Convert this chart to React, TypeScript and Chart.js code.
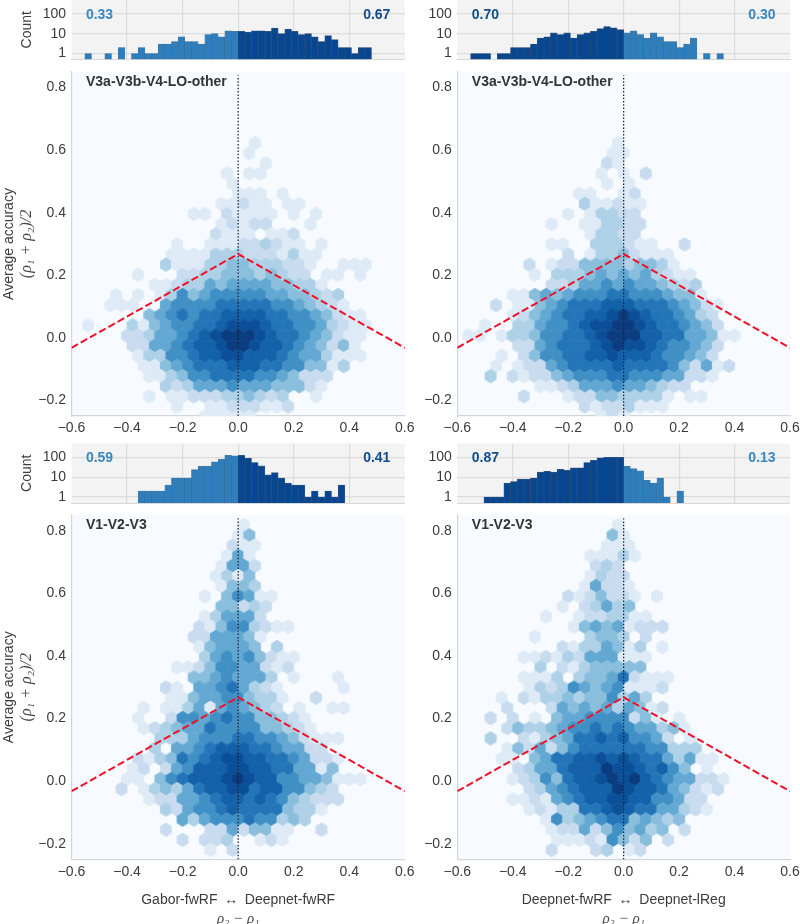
import React, { useEffect, useRef } from "react";
import { Chart, registerables } from "chart.js";

Chart.register(...registerables);

const diffTicks = [-0.6, -0.4, -0.2, 0, 0.2, 0.4, 0.6];
const histGridTicks = [-0.4, -0.2, 0, 0.2, 0.4];
const accTicks = [-0.2, 0, 0.2, 0.4, 0.6, 0.8];
const countTicks = [1, 10, 100];
const guideX = [-0.6, 0, 0.6];
const guideY = [-0.032, 0.268, -0.032];
const HIST_BIN = 0.024;
const HEX_BIN_X = 0.04;
const HEX_BIN_Y = 0.0324;
const HEX_TOP = 0.8172;

const histStartA = -23;
const histA = [1,0,0,1,0,2,0,1,2,1,1,3,3,4,7,4,4,3,9,10,7,14,13,13,12,14,14,13,19,10,17,13,9,10,7,4,8,5,2,2,1,2,2];
const histStartB = -23;
const histB = [1,1,1,0,1,1,2,2,2,3,6,7,11,9,11,6,9,11,13,18,23,20,16,11,14,9,6,11,7,4,4,2,3,6,0,1,0,1];
const histStartC = -15;
const histC = [2,2,2,2,4,9,9,9,24,35,36,60,80,125,120,125,90,55,37,13,17,9,5,4,4,1,2,1,2,1,4];
const histStartD = -21;
const histD = [1,1,1,5,6,8,8,9,18,20,18,25,22,30,30,55,70,95,100,100,100,35,27,21,7,5,9,1,0,2];

type HexRow = [number, string];
const E: HexRow = [0, ""];

const hexA: HexRow[] = [E,E,E,E,E,E,
  [1,"1"],[1,"1"],[2,"1"],[-1,"1.11"],[-1,"1"],[0,"111.1"],
  [-2,"11211.11"],[-4,"11.21111.1.1"],[-2,"12122...1"],[-2,"2111.112"],
  [-6,"1..111223211.1"],[-6,"11113332221311"],[-7,"31113344333221..111"],
  [-9,"1...223344434322.11.1"],[-8,"1123354555544331"],[-11,"1.1.13645666665544323"],
  [-12,"111..56666777776654321"],[-8,"45676778888776654211"],
  [-14,"1...3145667789998776653211"],[-10,"223556789aaa9877654211"],
  [-10,"225567889aa9887654241"],[-9,"133667889988876553111"],
  [-9,"1145677788877664413"],[-8,"11346677776654222"],[-7,"323555655544421"],
  [-8,"1.11222334323..1"],[-6,"1..11222112"],[-3,"11111"],
];

const hexB: HexRow[] = [E,E,E,E,E,E,
  [-1,"1"],[-1,"11"],[-2,"21"],[-2,"1.1.2"],[-2,"1.1"],[-4,"11..12"],
  [-4,"311211"],[-5,"1.13322"],[-7,"1..113322"],[-3,"13322"],
  [-7,"11..333211..2"],[-5,"2.13342111"],[-9,"2.122444434431"],
  [-8,"1.3334545453211"],[-7,"22355656554323"],[-10,"114545666776665441"],
  [-12,"2.1145677788877765421"],[-10,"1245677889a98776532"],
  [-13,"1..335667899aa98776542"],[-14,"11.1334667789aaa887755411"],
  [-10,"225677789a998766542"],[-11,"1.246677889888766542"],
  [-12,"1.12256777787777642512"],[-12,"3.2122456667766655221"],
  [-8,"11235556554322"],[-9,"2...1224433331.11"],[-4,"21223111"],[-2,"121"],
];

const hexC: HexRow[] = [
  [0,"1"],[0,"14"],[-1,"211"],[-1,"151"],[-2,"1552"],[-2,"1314"],
  [-2,"1443"],[-3,"1.46511"],[-2,"44232"],[-3,"135552"],[-4,"214663211"],[-4,"2255541"],
  [-4,"145554.3"],[-3,"356564211"],[-6,"11246655212"],[-4,"44565553.1...1"],
  [-7,"21.55675321.....1"],[-6,"11455664331..2"],[-9,"1.11351565432.1..11"],
  [-9,"1..2665676644321"],[-9,"1234557666644321"],[-7,"33356667766542111"],
  [-8,"3.55678887765522"],[-9,"2134767899887765221"],
  [-10,"12.2568889988775514"],[-10,"11.4678889a98866554111"],
  [-11,"2.134357889978866432"],[-8,"122556788787643222"],
  [-7,"325667877774331"],[-5,"535666766343"],[-7,"2...22524411..2"],
  [-5,"2.223..121"],[-3,"1.2"],E,
];

const hexD: HexRow[] = [
  [-1,"1"],[-1,"41"],[-2,"111"],[-3,"11131"],[-3,"232"],[-3,"1322"],
  [-4,"15221"],[-5,"2124221.1"],[-6,"1.23534"],[-7,"1..1223311"],[-5,"145451222"],[-8,"1....3443.2"],
  [-6,"21335413.1"],[-9,"112132555111"],[-8,"3.21344444"],[-9,"1113.344572111"],
  [-9,"1323654561112"],[-11,"1.213343446353"],[-11,"2...25454535412"],
  [-12,"2.2.1.4556666241.1"],[-11,"24334566767655341"],[-12,"3..21345778786652.1"],
  [-11,"142524677777766333"],[-11,"11.45778898987753511"],
  [-10,"23557888a9987864.1"],[-10,"123647889a9a87655221"],
  [-9,"23567888a988754212"],[-10,"112156788998866522"],
  [-9,"12133778987755321"],[-7,"1634567745434"],[-7,"12252464534.2"],
  [-6,"111216424.2"],[-7,"2...23.12"],E,
];

const regionTop = "V3a-V3b-V4-LO-other";
const regionBottom = "V1-V2-V3";
const fractionsA = ["0.33", "0.67"];
const fractionsB = ["0.70", "0.30"];
const fractionsC = ["0.59", "0.41"];
const fractionsD = ["0.87", "0.13"];
const xLabelLeft = "Gabor-fwRF \u2009\u2194\u2009 Deepnet-fwRF";
const xLabelRight = "Deepnet-fwRF \u2009\u2194\u2009 Deepnet-lReg";
const xMath = "ρ₂ − ρ₁";
const yLabel = "Average accuracy";
const yMath = "(ρ₁ + ρ₂)/2";

const BLUES = ["#f7fbff","#deebf7","#c9dcef","#afd1e7","#89bedc","#62a8d3","#4090c5","#2475b8","#1361a9","#0b4f98","#0a3c7f"];
const LIGHT = "#2f7ebb";
const DARK = "#08478f";
const LIGHT_TXT = "#3a87c2";
const DARK_TXT = "#114b90";
const INK = "#3b3b3b";
const SANS = '"Liberation Sans", Arial, sans-serif';

Chart.defaults.font.family = SANS;
Chart.defaults.font.size = 14;
Chart.defaults.color = INK;

const sprites: Record<number, HTMLCanvasElement> = {};
function hexSprite(level: number) {
  if (sprites[level]) return sprites[level];
  const c = document.createElement("canvas");
  c.width = 14;
  c.height = 16;
  const g = c.getContext("2d")!;
  const w = 11.11 / 2, h = 13.53 / 2;
  g.beginPath();
  g.moveTo(7, 8 - h);
  g.lineTo(7 + w, 8 - h / 2);
  g.lineTo(7 + w, 8 + h / 2);
  g.lineTo(7, 8 + h);
  g.lineTo(7 - w, 8 + h / 2);
  g.lineTo(7 - w, 8 - h / 2);
  g.closePath();
  g.fillStyle = BLUES[level];
  g.strokeStyle = BLUES[level];
  g.lineWidth = 0.9;
  g.fill();
  g.stroke();
  sprites[level] = c;
  return c;
}

function hexPoints(rows: HexRow[]) {
  const pts: { x: number; y: number; c: number }[] = [];
  rows.forEach(([start, levels], r) => {
    const k = r - 6;
    const half = ((k % 2) + 2) % 2 === 0;
    [...levels].forEach((ch, j) => {
      if (ch === ".") return;
      const i = start + j;
      pts.push({ x: (half ? i + 0.5 : i) * HEX_BIN_X, y: HEX_TOP - r * HEX_BIN_Y, c: parseInt(ch, 16) });
    });
  });
  return pts;
}

function histPoints(start: number, values: number[]) {
  const pts: { x: number; y: number }[] = [];
  values.forEach((v, i) => {
    if (v > 0) pts.push({ x: (start + i + 0.5) * HIST_BIN, y: v });
  });
  return pts;
}

const fmtDiff = (v: number) => {
  const s = Math.abs(v).toFixed(1);
  return v < -1e-9 ? "−" + s : s;
};

const noPad = (s: any) => {
  s.paddingTop = 0;
  s.paddingBottom = 0;
  s.paddingLeft = 0;
  s.paddingRight = 0;
};

const decorations = {
  id: "decorations",
  beforeDraw(chart: any, _a: any, o: any) {
    const { ctx, chartArea: a } = chart;
    ctx.save();
    ctx.fillStyle = o.bg;
    ctx.fillRect(a.left, a.top, a.right - a.left, a.bottom - a.top);
    ctx.restore();
  },
  afterDraw(chart: any, _a: any, o: any) {
    const { ctx, chartArea: a } = chart;
    ctx.save();
    ctx.textBaseline = "middle";
    if (o.region) {
      ctx.font = `bold 14px ${SANS}`;
      ctx.fillStyle = "#333333";
      ctx.textAlign = "left";
      ctx.fillText(o.region, a.left + 14.5, a.top + 10.5);
    }
    if (o.fractions) {
      ctx.font = `bold 14px ${SANS}`;
      ctx.textAlign = "left";
      ctx.fillStyle = o.leftDark ? DARK_TXT : LIGHT_TXT;
      ctx.fillText(o.fractions[0], a.left + 14.4, a.top + 15);
      ctx.textAlign = "right";
      ctx.fillStyle = o.leftDark ? LIGHT_TXT : DARK_TXT;
      ctx.fillText(o.fractions[1], a.right - 14.4, a.top + 15);
    }
    ctx.fillStyle = "#4a4a4a";
    ctx.textAlign = "center";
    if (o.xMath) {
      ctx.font = `italic 15px "Liberation Serif", "DejaVu Serif", serif`;
      ctx.fillText(o.xMath, (a.left + a.right) / 2, chart.height - 5);
    }
    if (o.yMath) {
      ctx.font = `italic 16px "Liberation Serif", "DejaVu Serif", serif`;
      ctx.translate(27, (a.top + a.bottom) / 2);
      ctx.rotate(-Math.PI / 2);
      ctx.fillText(o.yMath, 0, 0);
    }
    ctx.restore();
  },
};

function HistPanel({ left, top, width, height, area, start, values, fractions, leftDark, yTitle }: any) {
  const ref = useRef<HTMLCanvasElement>(null);
  useEffect(() => {
    const chart = new Chart(ref.current!, {
      type: "bar",
      plugins: [decorations],
      data: {
        datasets: [{
          data: histPoints(start, values) as any,
          grouped: false,
          barPercentage: 1,
          categoryPercentage: 1,
          backgroundColor: (c: any) => ((c.raw?.x < 0) === !!leftDark ? DARK : LIGHT),
          borderColor: (c: any) => ((c.raw?.x < 0) === !!leftDark ? "rgba(4,40,90,0.75)" : "rgba(20,80,130,0.75)"),
          borderWidth: 0.6,
        } as any],
      },
      options: {
        animation: false,
        responsive: false,
        events: [],
        layout: { padding: { top: area.top, right: area.right, left: 0, bottom: 0 } },
        plugins: { legend: { display: false }, tooltip: { enabled: false }, decorations: { bg: "#f3f3f3", fractions, leftDark } } as any,
        scales: {
          x: {
            type: "linear", min: -0.6, max: 0.6, offset: false,
            afterBuildTicks: (s: any) => { s.ticks = histGridTicks.map((value) => ({ value })); },
            afterFit: (s: any) => { s.height = area.x; noPad(s); },
            ticks: { display: false },
            grid: { color: "#dcdcdc", lineWidth: 1.2, drawTicks: false, offset: false },
            border: { display: true, color: "#d8d8d8", width: 1 },
          },
          y: {
            type: "logarithmic", min: 0.5, max: 500,
            afterBuildTicks: (s: any) => { s.ticks = countTicks.map((value) => ({ value })); },
            afterFit: (s: any) => { s.width = area.y; noPad(s); },
            ticks: { padding: 5.5, color: INK, font: { size: 14 }, callback: (v: any) => String(v), autoSkip: false },
            grid: { color: "#dcdcdc", lineWidth: 1.2, drawTicks: false },
            border: { display: false },
            title: { display: !!yTitle, text: "Count", color: INK, font: { size: 14 }, padding: { top: 18.6, bottom: 0 } },
          },
        },
      } as any,
    });
    return () => chart.destroy();
  }, []);
  return <canvas ref={ref} width={width} height={height} style={{ position: "absolute", left, top, width, height }} />;
}

function HexPanel({ left, top, width, height, area, rows, region, xTitle, yTitle }: any) {
  const ref = useRef<HTMLCanvasElement>(null);
  useEffect(() => {
    const chart = new Chart(ref.current!, {
      type: "scatter",
      plugins: [decorations],
      data: {
        datasets: [
          {
            data: hexPoints(rows),
            order: 3,
            pointRadius: 6,
            pointHoverRadius: 6,
            pointBorderWidth: 0,
            pointStyle: (c: any) => hexSprite(c.raw?.c ?? 1),
          },
          {
            data: [{ x: 0, y: -0.25 }, { x: 0, y: 0.84 }],
            order: 2,
            showLine: true,
            pointRadius: 0,
            borderColor: "#1a1f33",
            borderWidth: 1.25,
            borderDash: [1.5, 1.8],
          },
          {
            data: guideX.map((x, i) => ({ x, y: guideY[i] })),
            order: 1,
            showLine: true,
            pointRadius: 0,
            borderColor: "#ee1228",
            borderWidth: 2,
            borderDash: [7.4, 3.2],
          },
        ] as any,
      },
      options: {
        animation: false,
        responsive: false,
        events: [],
        layout: { padding: { top: area.top, right: area.right, left: 0, bottom: 0 } },
        plugins: {
          legend: { display: false }, tooltip: { enabled: false },
          decorations: { bg: BLUES[0], region, xMath: xTitle ? xMath : null, yMath: yTitle ? yMath : null },
        } as any,
        scales: {
          x: {
            type: "linear", min: -0.6, max: 0.6,
            afterBuildTicks: (s: any) => { s.ticks = diffTicks.map((value) => ({ value })); },
            afterFit: (s: any) => { s.height = area.x; noPad(s); },
            ticks: { padding: 4, color: INK, font: { size: 14 }, maxRotation: 0, autoSkip: false, callback: (v: any) => fmtDiff(Number(v)) },
            grid: { display: false, drawTicks: false },
            border: { display: true, color: "#d2d6da", width: 1.2 },
            title: { display: !!xTitle, text: xTitle, color: INK, font: { size: 14 }, padding: { top: 0, bottom: 15.6 } },
          },
          y: {
            type: "linear", min: -0.25, max: 0.85,
            afterBuildTicks: (s: any) => { s.ticks = accTicks.map((value) => ({ value })); },
            afterFit: (s: any) => { s.width = area.y; noPad(s); },
            ticks: { padding: 5.5, color: INK, font: { size: 14 }, autoSkip: false, callback: (v: any) => fmtDiff(Number(v)) },
            grid: { display: false, drawTicks: false },
            border: { display: true, color: "#d2d6da", width: 1.2 },
            title: { display: !!yTitle, text: yLabel, color: INK, font: { size: 14 }, padding: { top: 0.6, bottom: 0 } },
          },
        },
      } as any,
    });
    return () => chart.destroy();
  }, []);
  return <canvas ref={ref} width={width} height={height} style={{ position: "absolute", left, top, width, height }} />;
}

const LEFT_COL = { left: 0, width: 415, y: 71.5, right: 10.2 };
const RIGHT_COL = { left: 415, width: 385, y: 42.3, right: 10 };

export default function App() {
  useEffect(() => {
    document.body.style.margin = "0";
    document.body.style.background = "#ffffff";
  }, []);
  const hist = (col: any, rowTop: number, h: number, pad: number, xH: number) => ({
    left: col.left, top: rowTop, width: col.width, height: h,
    area: { top: pad, right: col.right, y: col.y, x: xH },
  });
  return (
    <div style={{ position: "absolute", left: 0, top: 0, width: 800, height: 924, overflow: "hidden", background: "#fff" }}>
      <HistPanel {...hist(LEFT_COL, 0, 66, 0, 6.5)} start={histStartA} values={histA} fractions={fractionsA} leftDark={false} yTitle />
      <HistPanel {...hist(RIGHT_COL, 0, 66, 0, 6.5)} start={histStartB} values={histB} fractions={fractionsB} leftDark />
      <HexPanel {...hist(LEFT_COL, 66, 372, 5.5, 22)} rows={hexA} region={regionTop} yTitle />
      <HexPanel {...hist(RIGHT_COL, 66, 372, 5.5, 22)} rows={hexB} region={regionTop} />
      <HistPanel {...hist(LEFT_COL, 438, 68, 5.5, 3)} start={histStartC} values={histC} fractions={fractionsC} leftDark={false} yTitle />
      <HistPanel {...hist(RIGHT_COL, 438, 68, 5.5, 3)} start={histStartD} values={histD} fractions={fractionsD} leftDark />
      <HexPanel {...hist(LEFT_COL, 506, 418, 9, 64.5)} rows={hexC} region={regionBottom} xTitle={xLabelLeft} yTitle />
      <HexPanel {...hist(RIGHT_COL, 506, 418, 9, 64.5)} rows={hexD} region={regionBottom} xTitle={xLabelRight} />
    </div>
  );
}
